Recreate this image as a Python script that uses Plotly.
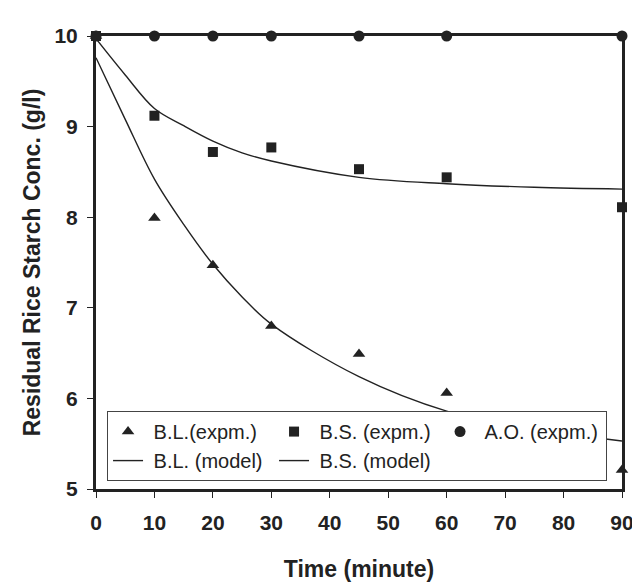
import plotly.graph_objects as go

# experimental points
t_exp = [0, 10, 20, 30, 45, 60, 90]
bl_exp = [10.0, 7.99, 7.47, 6.80, 6.49, 6.06, 5.21]
bs_exp = [10.0, 9.12, 8.72, 8.77, 8.53, 8.44, 8.11]
ao_exp = [10.0, 10.0, 10.0, 10.0, 10.0, 10.0, 10.0]

# model curves
t_mod = [0, 5, 10, 15, 20, 25, 30, 45, 60, 75, 90]
bl_mod = [9.76, 9.08, 8.42, 7.92, 7.48, 7.12, 6.82, 6.24, 5.86, 5.66, 5.53]
bs_mod = [9.97, 9.57, 9.20, 9.01, 8.84, 8.71, 8.62, 8.44, 8.37, 8.33, 8.31]

ink = "#222222"
font = "Liberation Sans, Arial, sans-serif"

fig = go.Figure()
fig.add_trace(go.Scatter(x=t_exp, y=bl_exp, mode="markers", name=" B.L.(expm.)",
                         marker=dict(symbol="triangle-up", size=11, color=ink), cliponaxis=False))
fig.add_trace(go.Scatter(x=t_exp, y=bs_exp, mode="markers", name=" B.S. (expm.)",
                         marker=dict(symbol="square", size=10, color=ink), cliponaxis=False))
fig.add_trace(go.Scatter(x=t_exp, y=ao_exp, mode="markers", name=" A.O. (expm.)",
                         marker=dict(symbol="circle", size=11, color=ink), cliponaxis=False))
fig.add_trace(go.Scatter(x=t_mod, y=bl_mod, mode="lines", name=" B.L. (model)",
                         line=dict(color=ink, width=1.4, shape="spline")))
fig.add_trace(go.Scatter(x=t_mod, y=bs_mod, mode="lines", name=" B.S. (model)",
                         line=dict(color=ink, width=1.4, shape="spline")))

axis_common = dict(showline=True, linewidth=3, linecolor=ink, mirror=True,
                   showgrid=False, zeroline=False, ticks="outside", ticklen=6,
                   tickwidth=1, tickcolor=ink, automargin=False,
                   tickfont=dict(family=font, size=21, color=ink, weight="bold"))

# page body has an 8px margin, so the figure is a bit smaller than the window
fig.update_layout(
    width=632, height=578,
    margin=dict(l=88, r=18, t=28, b=97),
    paper_bgcolor="white", plot_bgcolor="white",
    font=dict(family=font, color=ink),
    xaxis=dict(axis_common, range=[0, 90], dtick=10, tick0=0, ticklabelstandoff=7,
               title=dict(text="Time (minute)", standoff=28,
                          font=dict(family=font, size=23, color=ink, weight="bold"))),
    yaxis=dict(axis_common, range=[5, 10], dtick=1, tick0=5, ticklabelstandoff=5,
               title=dict(text="Residual Rice Starch Conc. (g/l)", standoff=8,
                          font=dict(family=font, size=23, color=ink, weight="bold"))),
    legend=dict(orientation="h", x=0.021, y=0.172, xanchor="left", yanchor="top",
                entrywidth=121, entrywidthmode="pixels",
                bgcolor="white", bordercolor="#444444", borderwidth=1,
                font=dict(family=font, size=20, color=ink)),
    showlegend=True,
)

fig.write_html("out.html")
